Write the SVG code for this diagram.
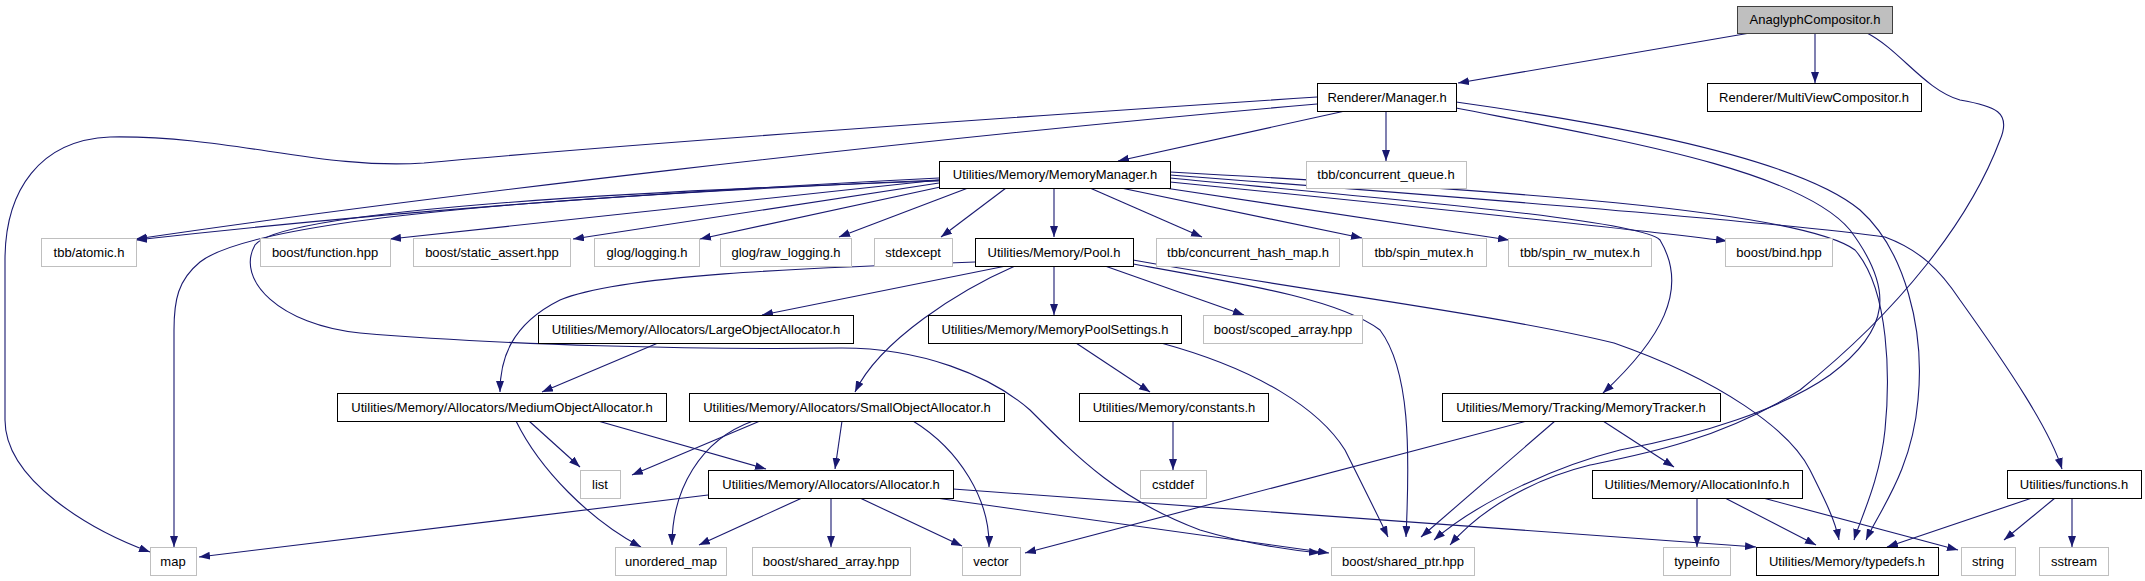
<svg xmlns="http://www.w3.org/2000/svg" width="2145" height="581" viewBox="0 0 2145 581">
<style>
.n rect{fill:#fff;stroke:#000;stroke-width:1}
.g rect{fill:#fff;stroke:#bfbfbf;stroke-width:1}
.r rect{fill:#bfbfbf;stroke:#404040;stroke-width:1}
text{font-family:"Liberation Sans",Arial,sans-serif;font-size:13px;fill:#000;text-anchor:middle}
#edges path{fill:none;stroke:#191970;stroke-width:1.1;marker-end:url(#a)}
</style>
<defs>
<marker id="a" markerUnits="userSpaceOnUse" markerWidth="12" markerHeight="9" refX="11" refY="4" orient="auto">
<path d="M0,0 L11,4 L0,8 z" fill="#191970"/>
</marker>
</defs>
<rect width="2145" height="581" fill="#fff"/>
<g id="edges">
<path d="M1750,33 L1458,83"/>
<path d="M1815,33 L1815,83"/>
<path d="M1867,33 C1900,50 1925,90 1960,100 C1995,106 2012,112 2000,140 C1970,220 1900,310 1800,390 C1720,440 1640,455 1590,465 C1530,480 1480,510 1450,545"/>
<path d="M1345,111 L1118,161"/>
<path d="M1386,111 L1386,161"/>
<path d="M1317,104 C900,140 400,200 136,239"/>
<path d="M1317,97 C1000,118 620,145 424,163 C320,170 230,135 110,137 C40,140 5,190 5,260 L5,420 C5,480 90,530 150,552"/>
<path d="M1456,102 C1620,125 1800,160 1860,210 C1905,250 1925,330 1918,400 C1912,470 1880,510 1866,540"/>
<path d="M1456,108 C1620,140 1800,170 1850,230 C1895,290 1890,330 1830,375 C1780,410 1700,435 1620,450 C1560,465 1480,500 1434,540"/>
<path d="M1170,172 C1500,190 1800,210 1855,250 C1890,290 1890,380 1885,430 C1880,480 1860,520 1854,540"/>
<path d="M1170,175 C1500,200 1800,225 1885,237 C1920,250 1940,270 1960,300 C2010,370 2050,430 2062,469"/>
<path d="M1170,178 C1400,200 1640,220 1660,240 C1690,290 1660,340 1603,393"/>
<path d="M1170,182 C1400,205 1600,225 1727,241"/>
<path d="M1165,188 L1509,240"/>
<path d="M1121,188 L1362,238"/>
<path d="M1090,188 L1202,237"/>
<path d="M1054,188 L1054,237"/>
<path d="M1006,188 L941,237"/>
<path d="M968,188 L839,237"/>
<path d="M945,186 L700,239"/>
<path d="M939,183 L573,239"/>
<path d="M939,180 L390,239"/>
<path d="M939,178 C700,190 400,210 136,240"/>
<path d="M939,180 C600,195 260,215 200,262 C178,280 174,300 174,330 L174,547"/>
<path d="M939,181 C600,192 280,212 255,245 C235,280 280,325 360,333 C500,345 700,350 842,348 C920,348 990,375 1030,410 C1080,460 1120,500 1200,530 C1250,545 1290,550 1320,553"/>
<path d="M975,262 C800,268 620,275 560,300 C510,325 500,360 500,392"/>
<path d="M1006,266 L762,315"/>
<path d="M1015,266 C960,290 880,340 855,392"/>
<path d="M1054,266 L1054,315"/>
<path d="M1105,266 L1244,315"/>
<path d="M1133,264 C1250,285 1340,300 1380,330 C1410,370 1410,450 1406,537"/>
<path d="M1133,260 C1300,290 1500,315 1614,343 C1720,380 1790,430 1810,470 C1825,500 1835,520 1839,540"/>
<path d="M658,343 L542,392"/>
<path d="M1076,343 L1150,392"/>
<path d="M1161,343 C1260,370 1320,410 1345,450 C1365,490 1380,520 1388,537"/>
<path d="M1173,421 L1173,470"/>
<path d="M529,421 L580,467"/>
<path d="M516,421 C540,470 590,520 641,547"/>
<path d="M598,421 L766,469"/>
<path d="M760,421 L632,475"/>
<path d="M753,421 C700,440 672,490 672,545"/>
<path d="M842,421 L835,469"/>
<path d="M913,421 C960,450 990,500 989,547"/>
<path d="M708,495 L199,557"/>
<path d="M802,498 L699,545"/>
<path d="M831,498 L831,547"/>
<path d="M860,498 L962,546"/>
<path d="M936,498 L1329,553"/>
<path d="M953,489 L1756,547"/>
<path d="M1527,421 L1025,553"/>
<path d="M1555,421 L1421,537"/>
<path d="M1603,421 L1674,467"/>
<path d="M1697,498 L1697,547"/>
<path d="M1725,498 L1816,545"/>
<path d="M1763,498 L1958,550"/>
<path d="M2032,498 L1887,547"/>
<path d="M2055,498 L2004,540"/>
<path d="M2072,498 L2072,547"/>
</g>
<g id="anaglyph" class="r"><rect x="1737.5" y="6.5" width="155" height="27"/><text x="1815" y="24">AnaglyphCompositor.h</text></g>
<g id="manager" class="n"><rect x="1317.5" y="83.5" width="139" height="28"/><text x="1387" y="102">Renderer/Manager.h</text></g>
<g id="multiview" class="n"><rect x="1707.5" y="83.5" width="214" height="28"/><text x="1814" y="102">Renderer/MultiViewCompositor.h</text></g>
<g id="memorymanager" class="n"><rect x="939.5" y="161.5" width="231" height="27"/><text x="1055" y="179">Utilities/Memory/MemoryManager.h</text></g>
<g id="concurrent_queue" class="g"><rect x="1306.5" y="161.5" width="160" height="27"/><text x="1386" y="179">tbb/concurrent_queue.h</text></g>
<g id="atomic" class="g"><rect x="41.5" y="238.5" width="95" height="28"/><text x="89" y="257">tbb/atomic.h</text></g>
<g id="function" class="g"><rect x="260.5" y="238.5" width="130" height="28"/><text x="325" y="257">boost/function.hpp</text></g>
<g id="static_assert" class="g"><rect x="413.5" y="238.5" width="157" height="28"/><text x="492" y="257">boost/static_assert.hpp</text></g>
<g id="logging" class="g"><rect x="594.5" y="238.5" width="105" height="28"/><text x="647" y="257">glog/logging.h</text></g>
<g id="raw_logging" class="g"><rect x="720.5" y="238.5" width="131" height="28"/><text x="786" y="257">glog/raw_logging.h</text></g>
<g id="stdexcept" class="g"><rect x="874.5" y="238.5" width="78" height="28"/><text x="913" y="257">stdexcept</text></g>
<g id="pool" class="n"><rect x="975.5" y="238.5" width="158" height="28"/><text x="1054" y="257">Utilities/Memory/Pool.h</text></g>
<g id="hash_map" class="g"><rect x="1156.5" y="238.5" width="183" height="28"/><text x="1248" y="257">tbb/concurrent_hash_map.h</text></g>
<g id="spin_mutex" class="g"><rect x="1362.5" y="238.5" width="124" height="28"/><text x="1424" y="257">tbb/spin_mutex.h</text></g>
<g id="spin_rw_mutex" class="g"><rect x="1508.5" y="238.5" width="143" height="28"/><text x="1580" y="257">tbb/spin_rw_mutex.h</text></g>
<g id="bind" class="g"><rect x="1725.5" y="238.5" width="107" height="28"/><text x="1779" y="257">boost/bind.hpp</text></g>
<g id="large" class="n"><rect x="538.5" y="315.5" width="315" height="28"/><text x="696" y="334">Utilities/Memory/Allocators/LargeObjectAllocator.h</text></g>
<g id="poolsettings" class="n"><rect x="928.5" y="315.5" width="253" height="28"/><text x="1055" y="334">Utilities/Memory/MemoryPoolSettings.h</text></g>
<g id="scoped_array" class="g"><rect x="1203.5" y="315.5" width="159" height="28"/><text x="1283" y="334">boost/scoped_array.hpp</text></g>
<g id="medium" class="n"><rect x="337.5" y="393.5" width="329" height="28"/><text x="502" y="412">Utilities/Memory/Allocators/MediumObjectAllocator.h</text></g>
<g id="small" class="n"><rect x="689.5" y="393.5" width="315" height="28"/><text x="847" y="412">Utilities/Memory/Allocators/SmallObjectAllocator.h</text></g>
<g id="constants" class="n"><rect x="1079.5" y="393.5" width="189" height="28"/><text x="1174" y="412">Utilities/Memory/constants.h</text></g>
<g id="tracker" class="n"><rect x="1442.5" y="393.5" width="278" height="28"/><text x="1581" y="412">Utilities/Memory/Tracking/MemoryTracker.h</text></g>
<g id="list" class="g"><rect x="580.5" y="470.5" width="40" height="28"/><text x="600" y="489">list</text></g>
<g id="allocator" class="n"><rect x="708.5" y="470.5" width="245" height="28"/><text x="831" y="489">Utilities/Memory/Allocators/Allocator.h</text></g>
<g id="cstddef" class="g"><rect x="1140.5" y="470.5" width="66" height="28"/><text x="1173" y="489">cstddef</text></g>
<g id="allocationinfo" class="n"><rect x="1592.5" y="470.5" width="210" height="28"/><text x="1697" y="489">Utilities/Memory/AllocationInfo.h</text></g>
<g id="functions" class="n"><rect x="2007.5" y="470.5" width="134" height="28"/><text x="2074" y="489">Utilities/functions.h</text></g>
<g id="map" class="g"><rect x="150.5" y="547.5" width="46" height="28"/><text x="173" y="566">map</text></g>
<g id="unordered_map" class="g"><rect x="615.5" y="547.5" width="111" height="28"/><text x="671" y="566">unordered_map</text></g>
<g id="shared_array" class="g"><rect x="752.5" y="547.5" width="158" height="28"/><text x="831" y="566">boost/shared_array.hpp</text></g>
<g id="vector" class="g"><rect x="962.5" y="547.5" width="58" height="28"/><text x="991" y="566">vector</text></g>
<g id="shared_ptr" class="g"><rect x="1331.5" y="547.5" width="143" height="28"/><text x="1403" y="566">boost/shared_ptr.hpp</text></g>
<g id="typeinfo" class="g"><rect x="1663.5" y="547.5" width="67" height="28"/><text x="1697" y="566">typeinfo</text></g>
<g id="typedefs" class="n"><rect x="1756.5" y="547.5" width="182" height="28"/><text x="1847" y="566">Utilities/Memory/typedefs.h</text></g>
<g id="string" class="g"><rect x="1961.5" y="547.5" width="54" height="28"/><text x="1988" y="566">string</text></g>
<g id="sstream" class="g"><rect x="2039.5" y="547.5" width="69" height="28"/><text x="2074" y="566">sstream</text></g>
</svg>
